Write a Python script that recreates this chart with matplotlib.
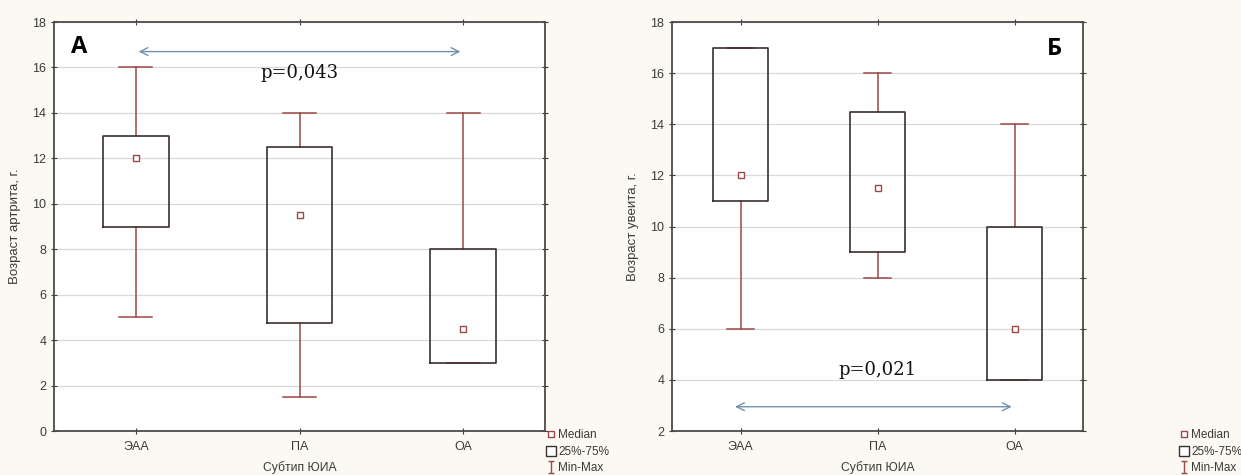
import matplotlib
matplotlib.use("Agg")
import matplotlib.pyplot as plt
from matplotlib.lines import Line2D
from matplotlib.path import Path

categories = ["ЭАА", "ПА", "ОА"]

# Panel A: age of arthritis onset
a_min = [5, 1.5, 3]
a_q1 = [9, 4.75, 3]
a_med = [12, 9.5, 4.5]
a_q3 = [13, 12.5, 8]
a_max = [16, 14, 14]

# Panel Б: age of uveitis onset
b_min = [6, 8, 4]
b_q1 = [11, 9, 4]
b_med = [12, 11.5, 6]
b_q3 = [17, 14.5, 10]
b_max = [17, 16, 14]

ylabel_a = "Возраст артрита, г."
ylabel_b = "Возраст увеита, г."
xlabel = "Субтип ЮИА"
p_a = "p=0,043"
p_b = "p=0,021"
legend_labels = ["Median", "25%-75%", "Min-Max"]

BG = "#fcf9f2"
WHISK = "#9a4848"
BOXC = "#3b2f2f"
ARROW = "#7490ad"
TXT = "#3a3a3a"

plt.rcParams['font.family'] = ['Liberation Sans', 'DejaVu Sans']

fig = plt.figure(figsize=(12.41, 4.75), dpi=100, facecolor=BG)
axA = fig.add_axes([0.0435, 0.0926, 0.3957, 0.861])
axB = fig.add_axes([0.5415, 0.0926, 0.3312, 0.861])

ibeam = Path([(-0.5, 1), (0.5, 1), (0, 1), (0, -1), (-0.5, -1), (0.5, -1)],
             [Path.MOVETO, Path.LINETO, Path.MOVETO, Path.LINETO, Path.MOVETO, Path.LINETO])


def draw(ax, mn, q1, med, q3, mx, ylim, ylab, yticks):
    stats = []
    for i in range(len(categories)):
        stats.append(dict(med=med[i], q1=q1[i], q3=q3[i], whislo=mn[i], whishi=mx[i], label=categories[i]))
    pos = list(range(len(categories)))
    ax.bxp(stats, positions=pos, widths=0.4, capwidths=0.2, showfliers=False,
           boxprops=dict(color=BOXC, linewidth=1.2, zorder=4),
           whiskerprops=dict(color=WHISK, linewidth=1.1, zorder=3),
           capprops=dict(color=WHISK, linewidth=1.1, zorder=3),
           medianprops=dict(linewidth=0))
    ax.plot(pos, med, linestyle='none', marker='s', markersize=4.5,
            markerfacecolor='white', markeredgecolor=WHISK, markeredgewidth=1.0, zorder=5)
    ax.set_xlim(-0.5, len(categories) - 0.5)
    ax.set_ylim(*ylim)
    ax.set_yticks(yticks)
    ax.set_xticks(pos)
    ax.set_xticklabels(categories)
    ax.grid(axis='y', color='#d9d9d9', linewidth=0.9)
    ax.set_axisbelow(True)
    ax.tick_params(axis='both', labelsize=9, colors=TXT, direction='inout', length=4,
                   top=True, right=True, width=0.8)
    ax.tick_params(axis='x', pad=5)
    for s in ax.spines.values():
        s.set_color('#4a4a4a')
        s.set_linewidth(1.3)
    ax.set_ylabel(ylab, fontsize=9.5, color=TXT, labelpad=8)
    ax.set_xlabel(xlabel, fontsize=8.7, color=TXT, labelpad=6)


draw(axA, a_min, a_q1, a_med, a_q3, a_max, (0, 18), ylabel_a, range(0, 19, 2))
draw(axB, b_min, b_q1, b_med, b_q3, b_max, (2, 18), ylabel_b, range(2, 19, 2))

# Annotations
axA.annotate("", xy=(2.0, 16.7), xytext=(0.0, 16.7),
             arrowprops=dict(arrowstyle="<->", color=ARROW, lw=1.0, mutation_scale=14))
axA.text(1.0, 15.75, p_a, ha='center', va='center', fontsize=13, color='#111111',
         family=['DejaVu Serif'])
axA.text(-0.345, 16.9, "А", ha='center', va='center', fontsize=17, fontweight='bold',
         family=['Open Sans', 'DejaVu Sans'])

axB.annotate("", xy=(2.0, 2.95), xytext=(-0.06, 2.95),
             arrowprops=dict(arrowstyle="<->", color=ARROW, lw=1.0, mutation_scale=14))
axB.text(1.0, 4.4, p_b, ha='center', va='center', fontsize=13, color='#111111',
         family=['DejaVu Serif'])
axB.text(2.29, 16.95, "Б", ha='center', va='center', fontsize=17, fontweight='bold',
         family=['Open Sans', 'DejaVu Sans'])

# Legends
handles = [
    Line2D([], [], linestyle='none', marker='s', markersize=4, markerfacecolor='white',
           markeredgecolor=WHISK, markeredgewidth=1.0),
    Line2D([], [], linestyle='none', marker='s', markersize=7, markerfacecolor='white',
           markeredgecolor=BOXC, markeredgewidth=1.0),
    Line2D([], [], linestyle='none', marker=ibeam, markersize=8, markerfacecolor='none',
           markeredgecolor=WHISK, markeredgewidth=1.0),
]
for x0 in (547 / 1241, 1180 / 1241):
    fig.legend(handles, legend_labels, loc='upper left', bbox_to_anchor=(x0, 1 - 429 / 475),
               bbox_transform=fig.transFigure, frameon=False,
               fontsize=8.5, handlelength=0.7, handletextpad=0.25, labelspacing=0.4,
               borderpad=0.0, borderaxespad=0.0, labelcolor=TXT)

fig.savefig("out.png", dpi=100, facecolor=BG)
